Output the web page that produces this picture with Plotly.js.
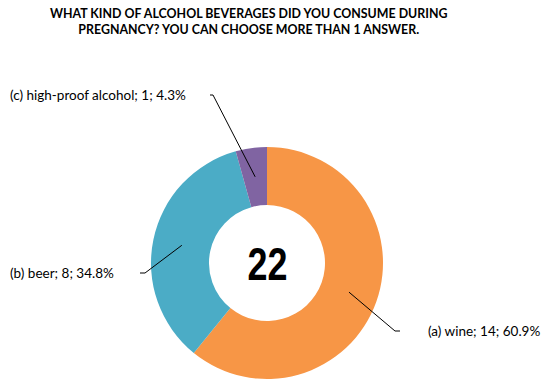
<!DOCTYPE html>
<html>
<head>
<meta charset="utf-8">
<script src="https://cdn.plot.ly/plotly-3.0.1.min.js"></script>
<style>html,body{margin:0;padding:0;background:#fff;}#chart{width:550px;height:392px;}</style>
</head>
<body>
<div id="chart"></div>
<script>
const categories = ["(a) wine", "(b) beer", "(c) high-proof alcohol"];
const counts = [14, 8, 1];
const percents = [60.9, 34.8, 4.3];
const colors = ["#F79646", "#4BACC6", "#8064A2"];
const totalLabel = "22";
const titleText = "WHAT KIND OF ALCOHOL BEVERAGES DID YOU CONSUME DURING<br>PREGNANCY? YOU CAN CHOOSE MORE THAN 1 ANSWER.";

const W = 550, H = 392;
// pie placement (pixels)
const cx = 267, cy = 263, R = 116, holeFrac = 0.5;
const dom = {x: [(cx - R) / W, (cx + R) / W], y: [(H - cy - R) / H, (H - cy + R) / H]};

// label placement (pixels): text left edge + elbow
const labelPos = [
  {tx: 426, ty: 331, ex: 395, ey: 331, tick: 400},
  {tx: 8, ty: 273, ex: 145, ey: 273, tick: 140},
  {tx: 8, ty: 95, ex: 213, ey: 95, tick: 210}
];

const total = counts.reduce((a, b) => a + b, 0);
const midR = R * (1 + holeFrac) / 2;
const shapes = [], annotations = [];
const px = x => x / W, py = y => 1 - y / H;
let cum = 0;
counts.forEach((v, i) => {
  const mid = (cum + v / 2) / total * 2 * Math.PI; // clockwise from top
  cum += v;
  const axp = cx + midR * Math.sin(mid);
  const ayp = cy - midR * Math.cos(mid);
  const L = labelPos[i];
  shapes.push({type: 'path', xref: 'paper', yref: 'paper',
    path: `M ${px(axp)} ${py(ayp)} L ${px(L.ex)} ${py(L.ey)} L ${px(L.tick)} ${py(L.ey)}`,
    line: {color: '#000', width: 1}});
  annotations.push({xref: 'paper', yref: 'paper', x: px(L.tx), y: py(L.ty),
    xanchor: 'left', yanchor: 'middle', showarrow: false,
    text: `${categories[i]}; ${counts[i]}; ${percents[i].toFixed(1)}%`,
    font: {family: 'Lato, "Open Sans", sans-serif', size: 13.5, color: '#000'}});
});
annotations.push({xref: 'paper', yref: 'paper', x: cx / W, y: py(cy + 1),
  xanchor: 'center', yanchor: 'middle', showarrow: false, text: '<b>' + totalLabel + '</b>',
  font: {family: '"Liberation Sans", Arial, sans-serif', size: 46, color: '#000'}});
annotations.push({xref: 'paper', yref: 'paper', x: px(248), y: py(4),
  xanchor: 'center', yanchor: 'top', showarrow: false, text: '<b>' + titleText + '</b>',
  font: {family: 'Lato, "Open Sans", sans-serif', size: 12.4, color: '#000'}});

const data = [{
  type: 'pie', labels: categories, values: counts, hole: holeFrac,
  sort: false, direction: 'clockwise', rotation: 0,
  marker: {colors: colors, line: {color: '#fff', width: 0}},
  textinfo: 'none', hoverinfo: 'label+value+percent', showlegend: false,
  domain: dom
}];

const layout = {
  width: W, height: H, margin: {l: 0, r: 0, t: 0, b: 0},
  paper_bgcolor: '#fff', plot_bgcolor: '#fff',
  shapes: shapes, annotations: annotations
};
Plotly.newPlot('chart', data, layout, {displayModeBar: false, staticPlot: true}).then(gd => {
  // condense the center number horizontally (narrow bold face in the reference)
  const texts = gd.querySelectorAll('.annotation-text');
  texts.forEach(t => {
    if (t.textContent.trim() === totalLabel) {
      const bb = t.getBBox();
      const c = bb.x + bb.width / 2;
      t.setAttribute('transform', `translate(${c},0) scale(0.78,1) translate(${-c},0)`);
    }
  });
});
</script>
</body>
</html>
